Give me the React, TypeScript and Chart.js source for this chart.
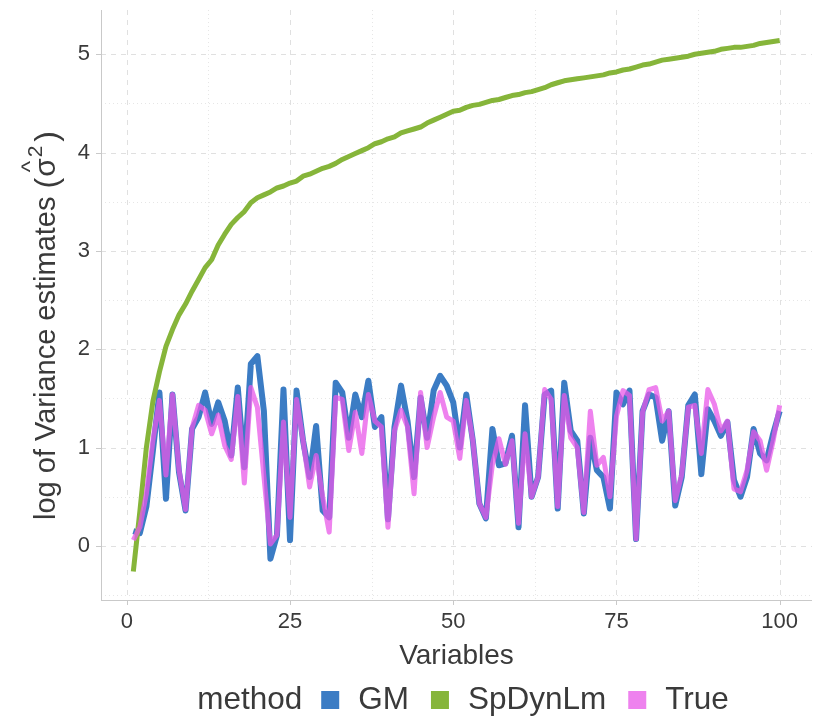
import React, { useEffect, useRef } from "react";
import { Chart, registerables } from "chart.js";

Chart.register(...registerables);

const variables = [
  1, 2, 3, 4, 5, 6, 7, 8, 9, 10, 11, 12, 13, 14, 15, 16, 17, 18, 19, 20,
  21, 22, 23, 24, 25, 26, 27, 28, 29, 30, 31, 32, 33, 34, 35, 36, 37, 38, 39, 40,
  41, 42, 43, 44, 45, 46, 47, 48, 49, 50, 51, 52, 53, 54, 55, 56, 57, 58, 59, 60,
  61, 62, 63, 64, 65, 66, 67, 68, 69, 70, 71, 72, 73, 74, 75, 76, 77, 78, 79, 80,
  81, 82, 83, 84, 85, 86, 87, 88, 89, 90, 91, 92, 93, 94, 95, 96, 97, 98, 99, 100,
];

const gmValues = [
  0.15, 0.13, 0.4, 0.97, 1.56, 0.48, 1.54, 0.75, 0.36, 1.19,
  1.31, 1.56, 1.24, 1.46, 1.27, 0.92, 1.61, 0.8, 1.85, 1.93,
  1.37, -0.13, 0.11, 1.59, 0.06, 1.58, 1.07, 0.7, 1.22, 0.36,
  0.29, 1.66, 1.56, 1.1, 1.54, 1.31, 1.68, 1.21, 1.31, 0.27,
  1.21, 1.63, 1.27, 0.7, 1.51, 1.1, 1.58, 1.73, 1.63, 1.46,
  1.0, 1.54, 1.07, 0.43, 0.28, 1.19, 0.82, 0.84, 1.12, 0.19,
  1.43, 0.5, 0.7, 1.54, 1.58, 0.38, 1.66, 1.17, 1.07, 0.33,
  1.1, 0.77, 0.7, 0.38, 1.56, 1.44, 1.58, 0.07, 1.37, 1.54,
  1.51, 1.07, 1.37, 0.41, 0.7, 1.43, 1.54, 0.73, 1.39, 1.27,
  1.12, 1.26, 0.67, 0.5, 0.7, 1.19, 0.94, 0.87, 1.14, 1.37,
];

const spDynLmValues = [
  -0.26, 0.35, 1.0, 1.47, 1.77, 2.03, 2.2, 2.35, 2.46, 2.59,
  2.71, 2.83, 2.91, 3.06, 3.17, 3.27, 3.34, 3.4, 3.49, 3.54,
  3.57, 3.6, 3.64, 3.66, 3.69, 3.71, 3.76, 3.78, 3.81, 3.84,
  3.86, 3.89, 3.93, 3.96, 3.99, 4.02, 4.05, 4.09, 4.11, 4.14,
  4.16, 4.2, 4.22, 4.24, 4.26, 4.3, 4.33, 4.36, 4.39, 4.42,
  4.43, 4.46, 4.48, 4.49, 4.51, 4.53, 4.54, 4.56, 4.58, 4.59,
  4.61, 4.62, 4.64, 4.66, 4.69, 4.71, 4.73, 4.74, 4.75, 4.76,
  4.77, 4.78, 4.79, 4.81, 4.82, 4.84, 4.85, 4.87, 4.89, 4.9,
  4.92, 4.94, 4.95, 4.96, 4.97, 4.98, 5.0, 5.01, 5.02, 5.03,
  5.05, 5.06, 5.07, 5.07, 5.08, 5.09, 5.11, 5.12, 5.13, 5.14,
];

const trueValues = [
  0.06, 0.19, 0.53, 1.07, 1.48, 0.72, 1.54, 0.77, 0.37, 1.2,
  1.43, 1.38, 1.14, 1.33, 1.02, 0.88, 1.52, 0.64, 1.61, 1.41,
  0.71, 0.02, 0.11, 1.26, 0.29, 1.49, 1.07, 0.6, 0.92, 0.5,
  0.14, 1.51, 1.49, 0.97, 1.36, 0.94, 1.54, 1.27, 1.21, 0.19,
  1.17, 1.38, 1.21, 0.53, 1.56, 1.0, 1.31, 1.56, 1.31, 1.27,
  0.89, 1.48, 1.07, 0.43, 0.29, 0.83, 1.09, 0.83, 1.07, 0.23,
  1.14, 0.5, 0.7, 1.59, 1.49, 0.4, 1.53, 1.1, 1.0, 0.34,
  1.37, 0.82, 0.9, 0.5, 1.32, 1.58, 1.53, 0.07, 1.36, 1.59,
  1.61, 1.27, 1.37, 0.46, 0.73, 1.41, 1.43, 0.94, 1.59, 1.44,
  1.17, 1.27, 0.58, 0.55, 0.77, 1.16, 1.07, 0.77, 1.07, 1.43,
];

const xMajorTicks = [0, 25, 50, 75, 100];
const xMinorTicks = [12.5, 37.5, 62.5, 87.5];
const yMajorTicks = [0, 1, 2, 3, 4, 5];
const yMinorTicks = [-0.5, 0.5, 1.5, 2.5, 3.5, 4.5];

const seriesNames = ["GM", "SpDynLm", "True"];
const legendTitle = "method";
const xTitle = "Variables";
const yTitleMain = "log of Variance estimates ";

const COLORS = {
  GM: "#3b7cc4",
  SpDynLm: "#86b53a",
  True: "rgba(232,88,232,0.75)",
  TrueKey: "#ee82ee",
};

const FONT = "'Liberation Sans', Arial, Helvetica, sans-serif";
const TEXT = "#3a3a3a";

const gridPlugin = {
  id: "ggGrid",
  beforeDatasetsDraw(chart: any) {
    const { ctx, chartArea } = chart;
    const xs = chart.scales.x;
    const ys = chart.scales.y;
    ctx.save();
    ctx.lineWidth = 1;
    ctx.strokeStyle = "#e6e6e6";
    ctx.setLineDash([1, 3]);
    xMinorTicks.forEach((v) => {
      const px = Math.round(xs.getPixelForValue(v)) + 0.5;
      ctx.beginPath();
      ctx.moveTo(px, chartArea.top);
      ctx.lineTo(px, chartArea.bottom);
      ctx.stroke();
    });
    yMinorTicks.forEach((v) => {
      const py = Math.round(ys.getPixelForValue(v)) + 0.5;
      ctx.beginPath();
      ctx.moveTo(chartArea.left, py);
      ctx.lineTo(chartArea.right, py);
      ctx.stroke();
    });
    ctx.strokeStyle = "#e0e0e0";
    ctx.setLineDash([5, 5]);
    xMajorTicks.forEach((v) => {
      const px = Math.round(xs.getPixelForValue(v)) + 0.5;
      ctx.beginPath();
      ctx.moveTo(px, chartArea.top);
      ctx.lineTo(px, chartArea.bottom);
      ctx.stroke();
    });
    yMajorTicks.forEach((v) => {
      const py = Math.round(ys.getPixelForValue(v)) + 0.5;
      ctx.beginPath();
      ctx.moveTo(chartArea.left, py);
      ctx.lineTo(chartArea.right, py);
      ctx.stroke();
    });
    ctx.setLineDash([]);
    ctx.strokeStyle = "#c9c9c9";
    ctx.beginPath();
    ctx.moveTo(chartArea.left + 0.5, chartArea.top);
    ctx.lineTo(chartArea.left + 0.5, chartArea.bottom);
    ctx.moveTo(chartArea.left, chartArea.bottom + 0.5);
    ctx.lineTo(chartArea.right, chartArea.bottom + 0.5);
    xMajorTicks.forEach((v) => {
      const px = Math.round(xs.getPixelForValue(v)) + 0.5;
      ctx.moveTo(px, chartArea.bottom);
      ctx.lineTo(px, chartArea.bottom + 5);
    });
    yMajorTicks.forEach((v) => {
      const py = Math.round(ys.getPixelForValue(v)) + 0.5;
      ctx.moveTo(chartArea.left, py);
      ctx.lineTo(chartArea.left - 5, py);
    });
    ctx.stroke();
    ctx.restore();
  },
};

const titlesPlugin = {
  id: "ggTitles",
  afterDraw(chart: any) {
    const { ctx } = chart;
    ctx.save();
    ctx.fillStyle = TEXT;
    // y axis title, rotated, with sigma-hat squared
    ctx.translate(55, 520);
    ctx.rotate(-Math.PI / 2);
    ctx.textBaseline = "alphabetic";
    ctx.textAlign = "left";
    let x = 0;
    ctx.font = `29px ${FONT}`;
    ctx.fillText(yTitleMain, x, 0);
    x += ctx.measureText(yTitleMain).width;
    ctx.font = `32px ${FONT}`;
    ctx.fillText("(", x, 2);
    x += ctx.measureText("(").width + 1;
    ctx.font = `30px ${FONT}`;
    const sw = ctx.measureText("σ").width;
    ctx.fillText("σ", x, 0);
    ctx.font = `24px ${FONT}`;
    const hw = ctx.measureText("^").width;
    ctx.fillText("^", x + sw / 2 - hw / 2 + 1, -17);
    x += sw + 1;
    ctx.font = `21px ${FONT}`;
    ctx.fillText("2", x, -13);
    x += ctx.measureText("2").width + 4;
    ctx.font = `32px ${FONT}`;
    ctx.fillText(")", x, 2);
    ctx.restore();
  },
};

const legendPlugin = {
  id: "ggLegend",
  afterDraw(chart: any) {
    const { ctx } = chart;
    ctx.save();
    ctx.font = `31.5px ${FONT}`;
    ctx.textBaseline = "middle";
    ctx.fillStyle = TEXT;
    const box = 18;
    const gapTitle = 19;
    const gapBoxText = 19;
    const gapItem = 22;
    const keyColors = [COLORS.GM, COLORS.SpDynLm, COLORS.TrueKey];
    let total = ctx.measureText(legendTitle).width + gapTitle;
    seriesNames.forEach((n, i) => {
      total += box + gapBoxText + ctx.measureText(n).width;
      if (i < seriesNames.length - 1) total += gapItem;
    });
    const cy = 700;
    let x = 463 - total / 2;
    ctx.fillText(legendTitle, x, cy);
    x += ctx.measureText(legendTitle).width + gapTitle;
    seriesNames.forEach((n, i) => {
      ctx.fillStyle = keyColors[i];
      ctx.fillRect(x, cy - box / 2, box, box);
      x += box + gapBoxText;
      ctx.fillStyle = TEXT;
      ctx.fillText(n, x, cy);
      x += ctx.measureText(n).width + gapItem;
    });
    ctx.restore();
  },
};

function toPoints(values: number[]) {
  return variables.map((v, i) => ({ x: v, y: values[i] }));
}

export default function App() {
  const canvasRef = useRef<HTMLCanvasElement | null>(null);

  useEffect(() => {
    if (!canvasRef.current) return;
    const chart = new Chart(canvasRef.current, {
      type: "line",
      data: {
        datasets: [
          {
            label: seriesNames[0],
            data: toPoints(gmValues),
            borderColor: COLORS.GM,
            borderWidth: 6,
            pointRadius: 0,
            borderJoinStyle: "round",
            tension: 0,
            order: 3,
          },
          {
            label: seriesNames[1],
            data: toPoints(spDynLmValues),
            borderColor: COLORS.SpDynLm,
            borderWidth: 5,
            pointRadius: 0,
            borderJoinStyle: "round",
            tension: 0,
            order: 2,
          },
          {
            label: seriesNames[2],
            data: toPoints(trueValues),
            borderColor: COLORS.True,
            borderWidth: 5,
            pointRadius: 0,
            borderJoinStyle: "round",
            tension: 0,
            order: 1,
          },
        ],
      },
      options: {
        animation: false,
        responsive: true,
        maintainAspectRatio: false,
        layout: { padding: { left: 0, right: 13, top: 10, bottom: 48 } },
        plugins: {
          legend: { display: false },
          tooltip: { enabled: false },
        },
        scales: {
          x: {
            type: "linear",
            min: -3.95,
            max: 104.95,
            afterBuildTicks: (s: any) => {
              s.ticks = xMajorTicks.map((v) => ({ value: v }));
            },
            afterFit: (s: any) => {
              s.height = 77;
              s.paddingLeft = 0;
              s.paddingRight = 0;
            },
            grid: { display: false, drawTicks: false },
            border: { display: false },
            ticks: {
              color: TEXT,
              font: { family: FONT, size: 22 },
              padding: 9,
              maxRotation: 0,
              autoSkip: false,
              callback: (v: any) => String(v),
            },
            title: {
              display: true,
              text: xTitle,
              color: TEXT,
              font: { family: FONT, size: 28 },
              padding: { top: 0, bottom: 4 },
            },
          },
          y: {
            type: "linear",
            min: -0.55,
            max: 5.45,
            afterBuildTicks: (s: any) => {
              s.ticks = yMajorTicks.map((v) => ({ value: v }));
            },
            afterFit: (s: any) => {
              s.width = 101;
              s.paddingTop = 0;
              s.paddingBottom = 0;
            },
            grid: { display: false, drawTicks: false },
            border: { display: false },
            ticks: {
              color: TEXT,
              font: { family: FONT, size: 22 },
              padding: 11,
              autoSkip: false,
              callback: (v: any) => String(v),
            },
            title: { display: false },
          },
        },
      },
      plugins: [gridPlugin, titlesPlugin, legendPlugin],
    });
    return () => chart.destroy();
  }, []);

  return (
    <div
      style={{
        position: "fixed",
        left: 0,
        top: 0,
        width: 825,
        height: 725,
        background: "#ffffff",
      }}
    >
      <canvas ref={canvasRef} />
    </div>
  );
}
